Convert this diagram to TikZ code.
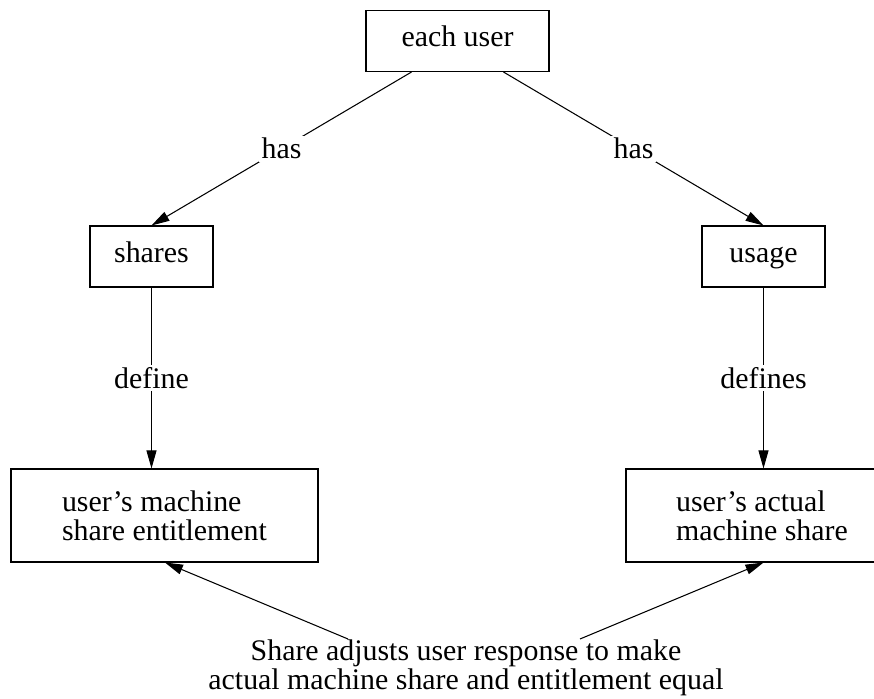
\documentclass[tikz,border=0pt]{standalone}
\usepackage{fontspec}
\setmainfont{Liberation Serif}
\usetikzlibrary{positioning}
\usetikzlibrary{arrows.meta}
\usetikzlibrary{calc}

\begin{document}
\begin{tikzpicture}[
	font=\fontsize{17}{16.5}\selectfont,
	box/.style={draw, line width=0.6pt, inner sep=0pt},
	smallbox/.style={box, minimum width=2.46cm, minimum height=1.22cm, text height=0.84em, text depth=0.2em},
	lbl/.style={fill=white, inner sep=1.5pt},
	arr/.style={line width=0.6pt, -{Triangle[length=0.36cm, width=0.2cm]}}
	]
	 % Fix the size of the picture
	 \useasboundingbox (0,0) rectangle (17.48,13.96);

	 % The boxes
	 \node[smallbox, minimum width=3.66cm] (user) at (9.15,13.14) {each user};
	 \node[smallbox] (shares) at (3.03,8.83) {shares};
	 \node[smallbox] (usage) at (15.27,8.83) {usage};
	 \node[box, minimum width=6.14cm, minimum height=1.86cm, align=left] (entitle) at (3.29,3.65) {user's machine\\share entitlement};
	 \node[box, minimum width=5.44cm, minimum height=1.86cm, align=left] (actual) at (15.24,3.65) {user's actual\\ machine share};

	 % The note at the bottom
	 \node[align=center, inner sep=0pt, anchor=north] (note) at (9.32,1.18) {Share adjusts user response to make\\actual machine share and entitlement equal};

	 % Draw the connectors
	 \draw[arr] ($(user.south west)!0.25!(user.south east)$) to node[lbl, midway] {has} (shares.north);
	 \draw[arr] ($(user.south west)!0.75!(user.south east)$) to node[lbl, midway] {has} (usage.north);
	 \draw[arr] (shares.south) to node[lbl, midway] {define} (shares.south |- entitle.north);
	 \draw[arr] (usage.south) to node[lbl, midway] {defines} (usage.south |- actual.north);

	 \draw[arr] ($(note.north)+(-2.36,0)$) to ($(entitle.south)+(0.01,0)$);
	 \draw[arr] ($(note.north)+(2.28,0)$) to (usage.south |- actual.south);
\end{tikzpicture}
\end{document}
